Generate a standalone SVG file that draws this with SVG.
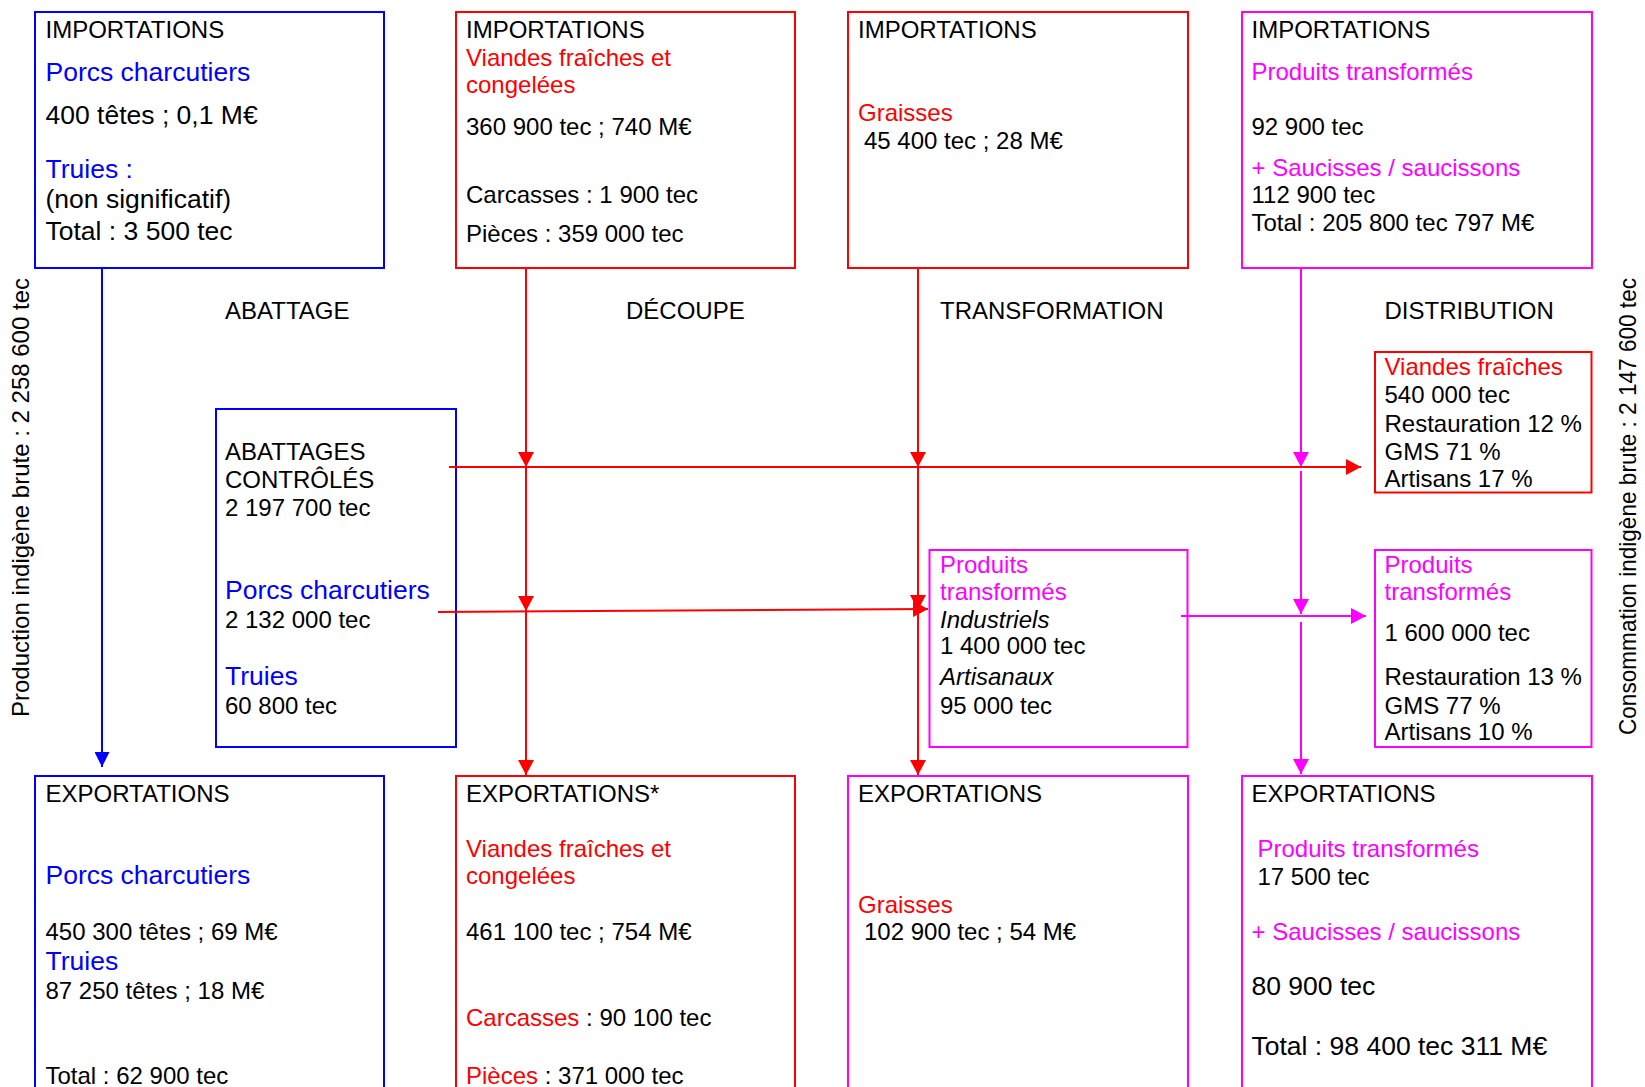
<svg xmlns="http://www.w3.org/2000/svg" width="1645" height="1087" viewBox="0 0 1645 1087">
<style>
text{font-family:"Liberation Sans",Arial,sans-serif;font-size:24px;fill:#000}
.L{font-size:26.5px}
.bl{fill:#0000FF}
.rd{fill:#FF0000}
.mg{fill:#FF00FF}
.it{font-style:italic}
rect{fill:#fff;stroke-width:2}
.sb{stroke:#0000FF}
.sr{stroke:#FF0000}
.sm{stroke:#FF00FF}
line{stroke-width:2;fill:none}
</style>
<defs>
<marker id="ab" markerUnits="userSpaceOnUse" markerWidth="15" markerHeight="15" refX="15" refY="7.5" orient="auto"><path d="M0,0 L15,7.5 L0,15 Z" fill="#0000FF"/></marker>
<marker id="ar" markerUnits="userSpaceOnUse" markerWidth="15" markerHeight="16" refX="15" refY="8" orient="auto"><path d="M0,0 L15,8 L0,16 Z" fill="#FF0000"/></marker>
<marker id="am" markerUnits="userSpaceOnUse" markerWidth="15" markerHeight="16" refX="15" refY="8" orient="auto"><path d="M0,0 L15,8 L0,16 Z" fill="#FF00FF"/></marker>
</defs>
<rect x="0" y="0" width="1645" height="1087" style="fill:#fff;stroke:none"/>

<g id="label-production">
<text transform="translate(29,717) rotate(-90)">Production indigène brute : 2 258 600 tec</text>
</g>
<g id="label-consommation">
<text transform="translate(1636,735) rotate(-90)" textLength="457" lengthAdjust="spacingAndGlyphs">Consommation indigène brute : 2 147 600 tec</text>
</g>

<g id="headers">
<text x="225" y="319">ABATTAGE</text>
<text x="626" y="319">DÉCOUPE</text>
<text x="940" y="319">TRANSFORMATION</text>
<text x="1384.5" y="319">DISTRIBUTION</text>
</g>

<g id="imp-porcs">
<rect class="sb" x="35" y="12" width="349" height="256"/>
<text x="45.5" y="37.5">IMPORTATIONS</text>
<text class="L bl" x="45.5" y="81">Porcs charcutiers</text>
<text class="L" x="45.5" y="124">400 têtes ; 0,1 M€</text>
<text class="L bl" x="45.5" y="178">Truies :</text>
<text class="L" x="45.5" y="207.5">(non significatif)</text>
<text class="L" x="45.5" y="240">Total : 3 500 tec</text>
</g>

<g id="imp-viandes">
<rect class="sr" x="456" y="12" width="339" height="256"/>
<text x="466" y="37.5">IMPORTATIONS</text>
<text class="rd" x="466" y="65.5">Viandes fraîches et</text>
<text class="rd" x="466" y="93">congelées</text>
<text x="466" y="135">360 900 tec ; 740 M€</text>
<text x="466" y="203">Carcasses : 1 900 tec</text>
<text x="466" y="241.5">Pièces : 359 000 tec</text>
</g>

<g id="imp-graisses">
<rect class="sr" x="848" y="12" width="340" height="256"/>
<text x="858" y="37.5">IMPORTATIONS</text>
<text class="rd" x="858" y="120.5">Graisses</text>
<text x="864" y="148.5">45 400 tec ; 28 M€</text>
</g>

<g id="imp-produits">
<rect class="sm" x="1242" y="12" width="350" height="256"/>
<text x="1251.5" y="37.5">IMPORTATIONS</text>
<text class="mg" x="1251.5" y="80">Produits transformés</text>
<text x="1251.5" y="134.5">92 900 tec</text>
<text class="mg" x="1251.5" y="175.5">+ Saucisses / saucissons</text>
<text x="1251.5" y="203">112 900 tec</text>
<text x="1251.5" y="231">Total : 205 800 tec 797 M€</text>
</g>

<g id="abattages">
<rect class="sb" x="216" y="409" width="240" height="338"/>
<text x="225" y="460">ABATTAGES</text>
<text x="225" y="487.5">CONTRÔLÉS</text>
<text x="225" y="515.5">2 197 700 tec</text>
<text class="L bl" x="225" y="598.5">Porcs charcutiers</text>
<text x="225" y="627.5">2 132 000 tec</text>
<text class="L bl" x="225" y="684.5">Truies</text>
<text x="225" y="713.5">60 800 tec</text>
</g>

<g id="dist-viandes">
<rect class="sr" x="1375" y="352" width="216.5" height="140.5"/>
<text class="rd" x="1384.5" y="375">Viandes fraîches</text>
<text x="1384.5" y="403">540 000 tec</text>
<text x="1384.5" y="431.5">Restauration 12 %</text>
<text x="1384.5" y="459.5">GMS 71 %</text>
<text x="1384.5" y="487">Artisans 17 %</text>
</g>

<g id="transfo-produits">
<rect class="sm" x="929.5" y="550" width="258" height="197"/>
<text class="mg" x="940" y="573">Produits</text>
<text class="mg" x="940" y="599.5">transformés</text>
<text class="it" x="940" y="627.5">Industriels</text>
<text x="940" y="654">1 400 000 tec</text>
<text class="it" x="940" y="685">Artisanaux</text>
<text x="940" y="713.5">95 000 tec</text>
</g>

<g id="dist-produits">
<rect class="sm" x="1375" y="550" width="216.5" height="197"/>
<text class="mg" x="1384.5" y="573">Produits</text>
<text class="mg" x="1384.5" y="599.5">transformés</text>
<text x="1384.5" y="641">1 600 000 tec</text>
<text x="1384.5" y="684.5">Restauration 13 %</text>
<text x="1384.5" y="713.5">GMS 77 %</text>
<text x="1384.5" y="740">Artisans 10 %</text>
</g>

<g id="exp-porcs">
<rect class="sb" x="35" y="776" width="349" height="330"/>
<text x="45.5" y="802">EXPORTATIONS</text>
<text class="L bl" x="45.5" y="883.5">Porcs charcutiers</text>
<text x="45.5" y="940">450 300 têtes ; 69 M€</text>
<text class="L bl" x="45.5" y="969.5">Truies</text>
<text x="45.5" y="998.5">87 250 têtes ; 18 M€</text>
<text x="45.5" y="1083.5">Total : 62 900 tec</text>
</g>

<g id="exp-viandes">
<rect class="sr" x="456" y="776" width="339" height="330"/>
<text x="466" y="802">EXPORTATIONS*</text>
<text class="rd" x="466" y="857">Viandes fraîches et</text>
<text class="rd" x="466" y="883.5">congelées</text>
<text x="466" y="940">461 100 tec ; 754 M€</text>
<text x="466" y="1026"><tspan class="rd">Carcasses</tspan> : 90 100 tec</text>
<text x="466" y="1083.5"><tspan class="rd">Pièces</tspan> : 371 000 tec</text>
</g>

<g id="exp-graisses">
<rect class="sm" x="848" y="776" width="340" height="330"/>
<text x="858" y="802">EXPORTATIONS</text>
<text class="rd" x="858" y="913">Graisses</text>
<text x="864" y="940">102 900 tec ; 54 M€</text>
</g>

<g id="exp-produits">
<rect class="sm" x="1242" y="776" width="350" height="330"/>
<text x="1251.5" y="802">EXPORTATIONS</text>
<text class="mg" x="1257.5" y="857">Produits transformés</text>
<text x="1257.5" y="884.5">17 500 tec</text>
<text class="mg" x="1251.5" y="940">+ Saucisses / saucissons</text>
<text class="L" x="1251.5" y="994.5">80 900 tec</text>
<text class="L" x="1251.5" y="1055">Total : 98 400 tec 311 M€</text>
</g>

<g id="connectors">
<line x1="102" y1="268" x2="102" y2="767" stroke="#0000FF" marker-end="url(#ab)"/>
<line x1="526" y1="268" x2="526" y2="467" stroke="#FF0000" marker-end="url(#ar)"/>
<line x1="526" y1="467" x2="526" y2="611" stroke="#FF0000" marker-end="url(#ar)"/>
<line x1="526" y1="611" x2="526" y2="775" stroke="#FF0000" marker-end="url(#ar)"/>
<line x1="918" y1="268" x2="918" y2="467" stroke="#FF0000" marker-end="url(#ar)"/>
<line x1="918" y1="467" x2="918" y2="610" stroke="#FF0000" marker-end="url(#ar)"/>
<line x1="918" y1="610" x2="918" y2="775" stroke="#FF0000" marker-end="url(#ar)"/>
<line x1="1301" y1="268" x2="1301" y2="467" stroke="#FF00FF" marker-end="url(#am)"/>
<line x1="1301" y1="471" x2="1301" y2="614" stroke="#FF00FF" marker-end="url(#am)"/>
<line x1="1301" y1="622" x2="1301" y2="774" stroke="#FF00FF" marker-end="url(#am)"/>
<line x1="449" y1="467" x2="1361" y2="467" stroke="#FF0000" marker-end="url(#ar)"/>
<line x1="438" y1="612" x2="928" y2="609" stroke="#FF0000" marker-end="url(#ar)"/>
<line x1="1181" y1="616" x2="1366" y2="616" stroke="#FF00FF" marker-end="url(#am)"/>
</g>
</svg>
